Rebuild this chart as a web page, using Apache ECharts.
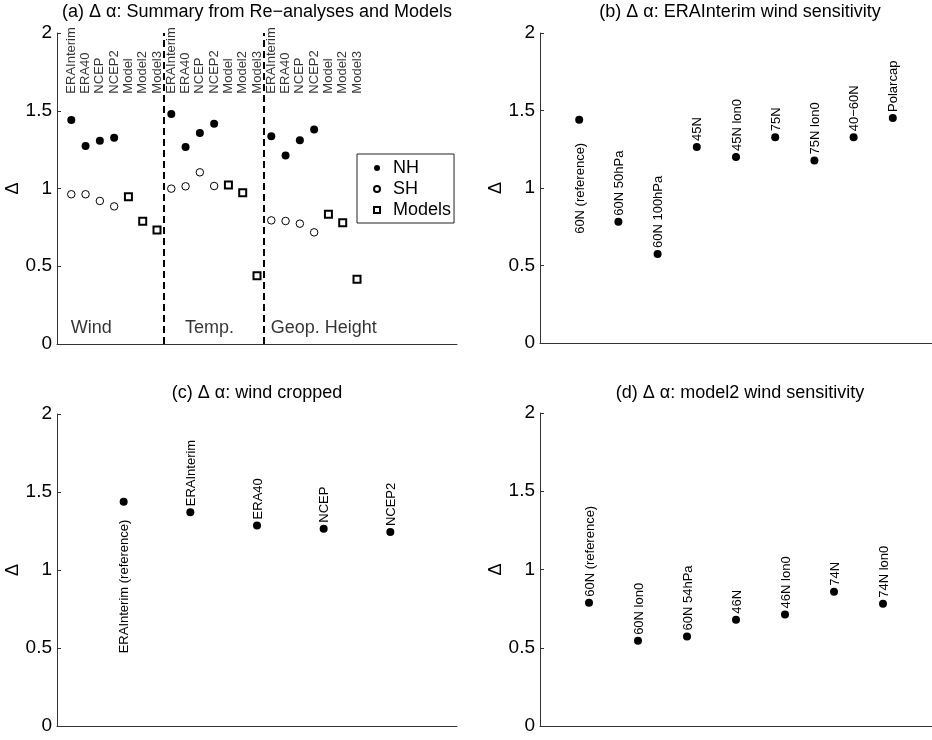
<!DOCTYPE html>
<html>
<head>
<meta charset="utf-8">
<script src="https://cdn.jsdelivr.net/npm/echarts@6/dist/echarts.min.js"></script>
<style>
  html, body { margin: 0; padding: 0; background: #fff; }
  #chart { width: 932px; height: 740px; }
</style>
</head>
<body>
<div id="chart"></div>
<script>
// ---- data ----
const groupNames = ['Wind', 'Temp.', 'Geop. Height'];
const categoriesA = ['ERAInterim', 'ERA40', 'NCEP', 'NCEP2', 'Model', 'Model2', 'Model3'];
// per group: ERAInterim, ERA40, NCEP, NCEP2
const nhA = [
  [1.44, 1.273, 1.307, 1.327],
  [1.479, 1.267, 1.357, 1.417],
  [1.336, 1.213, 1.31, 1.38]
];
const shA = [
  [0.963, 0.963, 0.92, 0.885],
  [0.999, 1.014, 1.104, 1.016],
  [0.795, 0.791, 0.774, 0.718]
];
// per group: Model, Model2, Model3
const modelsA = [
  [0.947, 0.789, 0.733],
  [1.022, 0.973, 0.439],
  [0.834, 0.78, 0.416]
];

const labelsB = ['60N (reference)', '60N 50hPa', '60N 100hPa', '45N', '45N lon0', '75N', '75N lon0', '40\u221260N', 'Polarcap'];
const valuesB = [1.44, 0.783, 0.574, 1.265, 1.2, 1.327, 1.178, 1.327, 1.452];

const labelsC = ['ERAInterim (reference)', 'ERAInterim', 'ERA40', 'NCEP', 'NCEP2'];
const valuesC = [1.438, 1.37, 1.286, 1.265, 1.243];

const labelsD = ['60N (reference)', '60N lon0', '60N 54hPa', '46N', '46N lon0', '74N', '74N lon0'];
const valuesD = [0.787, 0.544, 0.572, 0.679, 0.713, 0.858, 0.781];

const yTicks = ['0', '0.5', '1', '1.5', '2'];

const titles = [
  '(a) \u0394 \u03b1: Summary from Re\u2212analyses and Models',
  '(b) \u0394 \u03b1: ERAInterim wind sensitivity',
  '(c) \u0394 \u03b1: wind cropped',
  '(d) \u0394 \u03b1: model2 wind sensitivity'
];

// ---- layout ----
const FONT = "'Liberation Sans', Arial, Helvetica, sans-serif";
const AXIS_COLOR = '#333';
const grids = [
  { left: 57, top: 33, width: 400, height: 311 },
  { left: 540, top: 33, width: 400, height: 310 },
  { left: 57, top: 414, width: 400, height: 312 },
  { left: 540, top: 413, width: 400, height: 313 }
];
const titlePos = [[257, 12], [740, 12], [257, 393], [740, 393]];
const groupSize = categoriesA.length;
const xMaxA = 28;
const catLabelY = 1.61;
const regionLabelX = [1, 9, 15];
const regionLabelY = 0.1;

let chart = echarts.init(document.getElementById('chart'), null, { renderer: 'canvas' });

let xAxes = [];
let yAxes = [];
let xMax = [xMaxA, labelsB.length + 1, labelsC.length + 1, labelsD.length + 1];
grids.forEach((g, i) => {
  xAxes.push({
    type: 'value', gridIndex: i, min: 0, max: xMax[i],
    axisLine: { show: true, lineStyle: { color: AXIS_COLOR, width: 1 } },
    axisTick: { show: false }, axisLabel: { show: false }, splitLine: { show: false }
  });
  yAxes.push({
    type: 'value', gridIndex: i, min: 0, max: 2, interval: 0.5,
    name: '\u0394', nameLocation: 'middle', nameGap: 32, nameRotate: 90,
    nameTextStyle: { fontSize: 18, color: '#000', fontFamily: FONT },
    axisLine: { show: true, lineStyle: { color: AXIS_COLOR, width: 1 } },
    axisTick: { show: true, inside: true, length: 4, lineStyle: { color: AXIS_COLOR } },
    axisLabel: {
      fontSize: 19, color: '#000', margin: 5, fontFamily: FONT,
      formatter: (v) => yTicks[Math.round(v / 0.5)]
    },
    splitLine: { show: false }
  });
});

// panel (a) points
let nhData = [], shData = [], modelData = [], catData = [], regionData = [];
groupNames.forEach((gName, g) => {
  nhA[g].forEach((v, j) => nhData.push([g * groupSize + j + 1, v]));
  shA[g].forEach((v, j) => shData.push([g * groupSize + j + 1, v]));
  modelsA[g].forEach((v, j) => modelData.push([g * groupSize + nhA[g].length + j + 1, v]));
  categoriesA.forEach((c, j) => catData.push({ name: c, value: [g * groupSize + j + 1, catLabelY] }));
  regionData.push({ name: gName, value: [regionLabelX[g], regionLabelY] });
});

let series = [
  {
    name: 'NH', type: 'scatter', xAxisIndex: 0, yAxisIndex: 0,
    symbol: 'circle', symbolSize: 8, itemStyle: { color: '#000', opacity: 1 }, data: nhData,
    markLine: {
      silent: true, symbol: 'none', label: { show: false },
      lineStyle: { type: [7, 4], color: '#000', width: 2 },
      data: [{ xAxis: groupSize + 0.5 }, { xAxis: 2 * groupSize + 0.5 }]
    }
  },
  {
    name: 'SH', type: 'scatter', xAxisIndex: 0, yAxisIndex: 0,
    symbol: 'circle', symbolSize: 7.5,
    itemStyle: { color: '#fff', borderColor: '#000', borderWidth: 1, opacity: 1 }, data: shData
  },
  {
    name: 'Models', type: 'scatter', xAxisIndex: 0, yAxisIndex: 0,
    symbol: 'rect', symbolSize: 7,
    itemStyle: { color: '#fff', borderColor: '#000', borderWidth: 2, opacity: 1 }, data: modelData
  },
  {
    name: 'categories', type: 'scatter', xAxisIndex: 0, yAxisIndex: 0, silent: true,
    symbolSize: 1, itemStyle: { color: 'transparent' }, data: catData,
    label: {
      show: true, formatter: '{b}', position: [0.5, 0.5], align: 'left', verticalAlign: 'middle',
      rotate: 90, fontSize: 13, color: '#000', fontFamily: FONT
    }
  },
  {
    name: 'regions', type: 'scatter', xAxisIndex: 0, yAxisIndex: 0, silent: true,
    symbolSize: 1, itemStyle: { color: 'transparent' }, data: regionData,
    label: {
      show: true, formatter: '{b}', position: [0, 0.5], align: 'left', verticalAlign: 'middle',
      fontSize: 18, color: '#000', fontFamily: FONT
    }
  }
];

function sensitivity(idx, names, values, refGap) {
  let data = values.map((v, i) => {
    let item = { name: names[i], value: [i + 1, v] };
    if (i === 0 && refGap != null) {
      item.label = { position: [5, 4 + refGap], align: 'right' };
    }
    return item;
  });
  return {
    name: titles[idx], type: 'scatter', xAxisIndex: idx, yAxisIndex: idx,
    symbol: 'circle', symbolSize: 8, itemStyle: { color: '#000', opacity: 1 }, data: data,
    label: {
      show: true, formatter: '{b}', position: [5, -2], align: 'left', verticalAlign: 'middle',
      rotate: 90, fontSize: 13, color: '#000', fontFamily: FONT
    }
  };
}
series.push(sensitivity(1, labelsB, valuesB, 23));
series.push(sensitivity(2, labelsC, valuesC, 18));
series.push(sensitivity(3, labelsD, valuesD, null));

let option = {
  animation: false,
  backgroundColor: '#fff',
  textStyle: { fontFamily: FONT },
  grid: grids,
  xAxis: xAxes,
  yAxis: yAxes,
  legend: {
    data: ['NH', 'SH', 'Models'],
    orient: 'vertical', left: 357, top: 154,
    padding: [5, 3, 4, 16], itemWidth: 6, itemHeight: 6, itemGap: 3,
    borderColor: '#222', borderWidth: 1, backgroundColor: '#fff',
    selectedMode: false,
    textStyle: { fontSize: 18, color: '#000', fontFamily: FONT, padding: [0, 0, 0, 8] }
  },
  graphic: titles.map((t, i) => ({
    type: 'text', x: titlePos[i][0], y: titlePos[i][1], silent: true,
    style: { text: t, fontSize: 18, fontFamily: FONT, fill: '#000', align: 'center', verticalAlign: 'middle' }
  })),
  series: series
};
option && chart.setOption(option);
</script>
</body>
</html>
